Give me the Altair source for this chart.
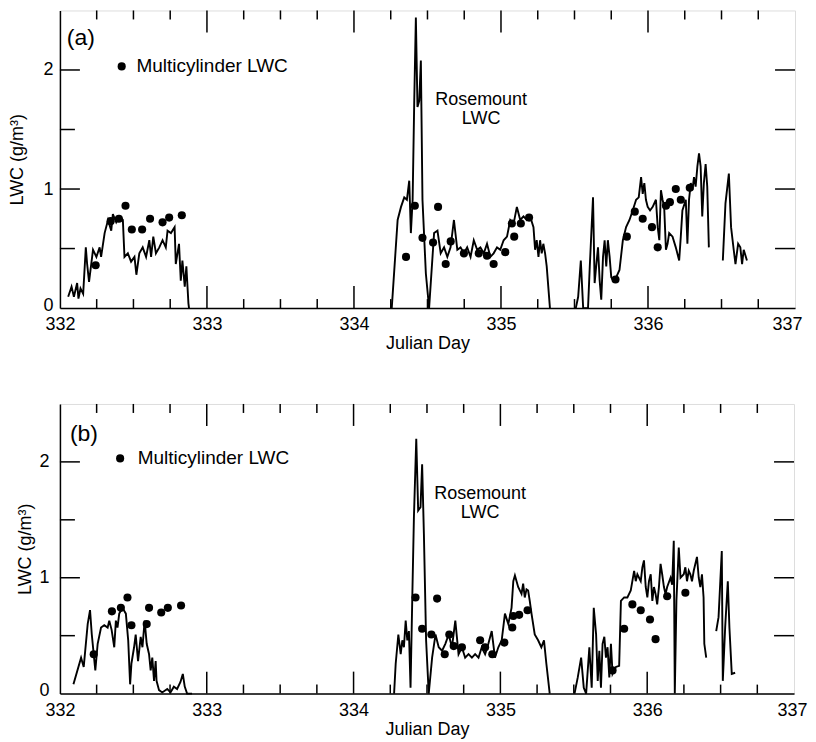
import altair as alt
import pandas as pd

FONT = "Liberation Sans"

# ---------------- Panel (a) : Rosemount LWC (line segments) ----------------
a_day_1 = [332.056, 332.079, 332.095, 332.117, 332.126, 332.14, 332.158, 332.176, 332.185, 332.198,
           332.225, 332.248, 332.27, 332.28, 332.304, 332.327, 332.349, 332.36, 332.383, 332.405,
           332.428, 332.439, 332.462, 332.484, 332.507, 332.52, 332.54, 332.563, 332.586, 332.608,
           332.62, 332.635, 332.653, 332.676, 332.698, 332.72, 332.732, 332.755, 332.78, 332.788,
           332.81, 332.822, 332.833, 332.849, 332.86, 332.874, 332.878]
a_lwc_1 = [0.095, 0.18, 0.095, 0.21, 0.08, 0.165, 0.12, 0.51, 0.37, 0.22,
           0.49, 0.43, 0.51, 0.43, 0.63, 0.74, 0.65, 0.79, 0.72, 0.77,
           0.74, 0.43, 0.46, 0.39, 0.43, 0.28, 0.46, 0.51, 0.43, 0.57,
           0.43, 0.60, 0.46, 0.51, 0.57, 0.51, 0.65, 0.63, 0.68, 0.37,
           0.54, 0.23, 0.40, 0.18, 0.35, 0.04, 0.0]
a_day_2 = [334.257, 334.297, 334.32, 334.342, 334.36, 334.376, 334.387, 334.399, 334.41, 334.421,
           334.432, 334.444, 334.455, 334.466, 334.489, 334.511, 334.545, 334.568, 334.59, 334.613,
           334.635, 334.657, 334.68, 334.703, 334.725, 334.748, 334.77, 334.793, 334.815, 334.838,
           334.86, 334.883, 334.905, 334.928, 334.95, 334.973, 334.995, 335.018, 335.041, 335.063,
           335.086, 335.108, 335.131, 335.153, 335.176, 335.198, 335.221, 335.232, 335.243, 335.255,
           335.266, 335.277, 335.288, 335.3, 335.311, 335.333]
a_lwc_2 = [0.0, 0.74, 0.85, 0.93, 0.91, 1.07, 0.63, 0.91, 1.74, 2.44,
           1.69, 1.74, 2.08, 0.91, 0.29, 0.0, 0.63, 0.65, 0.46, 0.51,
           0.43, 0.51, 0.74, 0.49, 0.51, 0.46, 0.51, 0.43, 0.57, 0.49,
           0.51, 0.46, 0.54, 0.43, 0.46, 0.51, 0.49, 0.57, 0.60, 0.74,
           0.71, 0.85, 0.74, 0.77, 0.74, 0.77, 0.68, 0.49, 0.57, 0.43,
           0.57, 0.46, 0.54, 0.46, 0.35, 0.0]
a_day_3 = [335.509, 335.525, 335.543, 335.559, 335.592, 335.604, 335.626, 335.637, 335.649, 335.66,
           335.671, 335.682, 335.694, 335.705, 335.716, 335.727, 335.739, 335.75, 335.761, 335.784,
           335.806, 335.829, 335.851, 335.874, 335.896, 335.919, 335.937, 335.953, 335.964, 335.975,
           335.986, 335.998, 336.014, 336.032, 336.054, 336.066, 336.077, 336.088, 336.099, 336.11,
           336.122, 336.133, 336.144, 336.167, 336.189, 336.212, 336.223, 336.234, 336.257, 336.268,
           336.279, 336.291, 336.302, 336.313, 336.324, 336.336, 336.347, 336.358, 336.369, 336.38,
           336.392, 336.403, 336.414]
a_lwc_3 = [0.0, 0.095, 0.40, 0.0, 0.0, 0.35, 0.93, 0.21, 0.37, 0.51,
           0.235, 0.07, 0.43, 0.57, 0.35, 0.57, 0.43, 0.26, 0.235, 0.26,
           0.32, 0.57, 0.68, 0.74, 0.82, 0.91, 0.93, 1.10, 0.96, 1.05,
           0.91, 0.85, 0.82, 0.85, 0.91, 0.68, 0.57, 0.99, 0.91, 0.85,
           0.49, 0.54, 0.63, 0.60, 0.51, 0.40, 0.60, 0.82, 0.91, 0.54,
           0.91, 1.05, 0.99, 1.10, 1.02, 1.19, 1.30, 1.19, 0.77, 1.05,
           1.21, 1.02, 0.51]
a_day_4 = [336.509, 336.527, 336.55, 336.565, 336.583, 336.595, 336.613, 336.628, 336.64, 336.651, 336.673]
a_lwc_4 = [0.40, 0.88, 1.13, 0.68, 0.49, 0.37, 0.54, 0.51, 0.37, 0.49, 0.40]

# ---------------- Panel (a) : Multicylinder LWC (dots) ----------------
a_mc_day = [332.243, 332.345, 332.401, 332.446, 332.489, 332.559, 332.613, 332.698, 332.743, 332.829,
            334.354, 334.414, 334.466, 334.538, 334.572, 334.624, 334.658, 334.748, 334.849, 334.905,
            334.95, 335.029, 335.074, 335.09, 335.135, 335.191,
            335.779, 335.856, 335.91, 335.964, 336.027, 336.066, 336.122, 336.149, 336.189, 336.223, 336.284]
a_mc_lwc = [0.36, 0.73, 0.75, 0.86, 0.66, 0.66, 0.75, 0.72, 0.76, 0.78,
            0.43, 0.86, 0.59, 0.55, 0.85, 0.37, 0.56, 0.46, 0.46, 0.44,
            0.37, 0.47, 0.71, 0.60, 0.71, 0.76,
            0.24, 0.60, 0.81, 0.75, 0.68, 0.51, 0.86, 0.89, 1.00, 0.91, 1.01]

# ---------------- Panel (b) : Rosemount LWC (line segments) ----------------
b_day_1 = [332.092, 332.144, 332.162, 332.189, 332.205, 332.217, 332.23, 332.241, 332.257, 332.28,
           332.302, 332.325, 332.336, 332.352, 332.37, 332.381, 332.392, 332.404, 332.426, 332.449,
           332.465, 332.478, 332.487, 332.505, 332.516, 332.532, 332.55, 332.562, 332.577, 332.591,
           332.607, 332.618, 332.629, 332.641, 332.652, 332.658, 332.675, 332.697, 332.731, 332.753,
           332.776, 332.798, 332.821, 332.837, 332.85, 332.866, 332.9]
b_lwc_1 = [0.08, 0.31, 0.23, 0.60, 0.72, 0.51, 0.34, 0.20, 0.43, 0.57,
           0.59, 0.57, 0.63, 0.55, 0.40, 0.63, 0.57, 0.69, 0.74, 0.69,
           0.46, 0.08, 0.26, 0.40, 0.51, 0.28, 0.49, 0.40, 0.63, 0.43,
           0.34, 0.20, 0.31, 0.11, 0.28, 0.11, 0.03, 0.01, 0.04, 0.01,
           0.06, 0.04, 0.10, 0.17, 0.06, 0.0, 0.0]
b_day_2 = [334.276, 334.287, 334.305, 334.321, 334.332, 334.343, 334.355, 334.366, 334.377, 334.388,
           334.40, 334.411, 334.427, 334.44, 334.456, 334.467, 334.479, 334.494, 334.512, 334.535,
           334.558, 334.58, 334.603, 334.625, 334.648, 334.67, 334.693, 334.715, 334.738, 334.76,
           334.783, 334.806, 334.828, 334.851, 334.873, 334.896, 334.918, 334.941, 334.963, 334.986,
           335.009, 335.031, 335.054, 335.076, 335.088, 335.099, 335.121, 335.144, 335.155, 335.166,
           335.178, 335.189, 335.2, 335.212, 335.234, 335.257, 335.279, 335.297, 335.313, 335.336]
b_lwc_2 = [0.0, 0.26, 0.51, 0.34, 0.46, 0.40, 0.63, 0.46, 0.54, 0.05,
           0.83, 1.52, 2.20, 1.58, 1.61, 1.98, 1.38, 0.46, 0.0, 0.31,
           0.51, 0.40, 0.37, 0.43, 0.51, 0.40, 0.63, 0.34, 0.40, 0.31,
           0.34, 0.31, 0.34, 0.31, 0.40, 0.34, 0.43, 0.54, 0.31, 0.40,
           0.46, 0.69, 0.60, 0.74, 0.97, 1.02, 0.92, 0.86, 0.95, 0.83,
           0.90, 0.89, 0.80, 0.69, 0.51, 0.46, 0.40, 0.46, 0.26, 0.0]
b_day_3 = [335.505, 335.527, 335.55, 335.568, 335.584, 335.606, 335.622, 335.636, 335.652, 335.663,
           335.674, 335.685, 335.696, 335.708, 335.719, 335.73, 335.742, 335.753, 335.764, 335.787,
           335.809, 335.821, 335.843, 335.865, 335.888, 335.911, 335.922, 335.933, 335.956, 335.967,
           335.978, 335.99, 336.001, 336.012, 336.024, 336.035, 336.046, 336.057, 336.068, 336.08,
           336.091, 336.102, 336.114, 336.125, 336.136, 336.159, 336.17, 336.181, 336.188, 336.199,
           336.215, 336.227, 336.249, 336.26, 336.271, 336.283, 336.294, 336.305, 336.317, 336.339,
           336.351, 336.362, 336.373, 336.384, 336.389, 336.402]
b_lwc_3 = [0.0, 0.14, 0.31, 0.05, 0.0, 0.40, 0.05, 0.74, 0.51, 0.11,
           0.37, 0.05, 0.43, 0.49, 0.31, 0.40, 0.14, 0.43, 0.17, 0.23,
           0.24, 0.80, 0.83, 0.83, 0.89, 1.06, 0.97, 1.03, 0.97, 1.09,
           1.15, 0.92, 0.83, 0.97, 1.03, 0.80, 0.92, 0.86, 0.77, 0.92,
           1.12, 1.03, 0.92, 0.86, 0.92, 1.00, 0.94, 1.32, 0.0, 0.80,
           1.26, 1.00, 1.03, 1.09, 0.97, 1.06, 1.03, 0.97, 1.06, 1.18,
           1.00, 0.92, 1.03, 0.83, 0.43, 0.31]
b_day_4 = [336.47, 336.486, 336.508, 336.515, 336.531, 336.549, 336.56, 336.576, 336.599]
b_lwc_4 = [0.54, 0.66, 1.23, 0.11, 0.57, 0.97, 0.57, 0.17, 0.18]

# ---------------- Panel (b) : Multicylinder LWC (dots) ----------------
b_mc_day = [332.23, 332.354, 332.415, 332.46, 332.487, 332.591, 332.607, 332.69, 332.735, 332.825,
            334.422, 334.569, 334.467, 334.53, 334.621, 334.652, 334.682, 334.738, 334.862, 334.896,
            334.945, 335.027, 335.081, 335.088, 335.128, 335.185,
            335.764, 335.843, 335.899, 335.956, 336.019, 336.057, 336.136, 336.26]
b_mc_lwc = [0.34, 0.71, 0.74, 0.83, 0.59, 0.60, 0.74, 0.70, 0.74, 0.76,
            0.83, 0.82, 0.56, 0.51, 0.34, 0.51, 0.41, 0.40, 0.46, 0.40,
            0.34, 0.44, 0.57, 0.67, 0.68, 0.72,
            0.20, 0.56, 0.77, 0.72, 0.64, 0.47, 0.84, 0.87]

# ---------------- axes / tick values ----------------
X_LABELS = [332, 333, 334, 335, 336, 337]
Y_LABELS = [0, 1, 2]
X_MAJOR = [333, 334, 335, 336]
X_MINOR = [332.25, 332.5, 332.75, 333.25, 333.5, 333.75, 334.25, 334.5, 334.75,
           335.25, 335.5, 335.75, 336.25, 336.5, 336.75]
Y_MAJOR = [1, 2]
Y_MINOR = [0.5, 1.5]

# ---------------- annotations ----------------
a_note = {"panel": "(a)", "panel_xy": (332.047, 2.265), "leg_dot": (332.42, 2.03), "leg_txt": (332.52, 2.03),
          "ros": [(334.865, 1.75, "Rosemount"), (334.865, 1.585, "LWC")]}
b_note = {"panel": "(b)", "panel_xy": (332.068, 2.24), "leg_dot": (332.41, 2.03), "leg_txt": (332.53, 2.03),
          "ros": [(334.862, 1.725, "Rosemount"), (334.862, 1.56, "LWC")]}


def seg_frame(segs):
    rows = []
    for i, (d, v) in enumerate(segs):
        for x, y in zip(d, v):
            rows.append({"x": x, "y": y, "seg": i})
    return pd.DataFrame(rows)


def panel(segs, mc_day, mc_lwc, note, W, H, xlab_pad, xtitle_pad, ylab_pad, ytitle_pad, last_off):
    xs = alt.Scale(domain=[332, 337], nice=False, zero=False)
    ys = alt.Scale(domain=[0, 2.5], nice=False, zero=False)
    xax = alt.Axis(values=X_LABELS, format="d", title="Julian Day", ticks=False, tickSize=0,
                   grid=False, labelFont=FONT, labelFontSize=18, labelColor="black",
                   labelPadding=xlab_pad, titleFont=FONT, titleFontSize=18, titleFontWeight="normal",
                   titleColor="black", titlePadding=xtitle_pad, domainColor="black", domainWidth=1.5,
                   labelFlush=False, labelOverlap=False,
                   labelOffset={"condition": {"test": "datum.value === 337", "value": last_off}, "value": 0})
    yax = alt.Axis(values=Y_LABELS, format="d", title="LWC (g/m³)", ticks=False, tickSize=0,
                   grid=False, labelFont=FONT, labelFontSize=18, labelColor="black",
                   labelPadding=ylab_pad, titleFont=FONT, titleFontSize=18, titleFontWeight="normal",
                   titleColor="black", titlePadding=ytitle_pad, domainColor="black", domainWidth=1.5,
                   labelFlush=False, labelOverlap=False,
                   labelOffset={"condition": {"test": "datum.value === 0", "value": -3}, "value": 0})

    def X(f="x"):
        return alt.X(f"{f}:Q", scale=xs, axis=xax)

    def Y(f="y"):
        return alt.Y(f"{f}:Q", scale=ys, axis=yax)

    line = alt.Chart(seg_frame(segs)).mark_line(color="black", strokeWidth=1.9).encode(
        x=X(), y=Y(), detail="seg:N", order="x:Q")
    dots = alt.Chart(pd.DataFrame({"x": mc_day, "y": mc_lwc})).mark_point(
        filled=True, color="black", size=66, opacity=1).encode(x=X(), y=Y())

    leg_dot = alt.Chart(pd.DataFrame({"x": [note["leg_dot"][0]], "y": [note["leg_dot"][1]]})).mark_point(
        filled=True, color="black", size=66, opacity=1).encode(x=X(), y=Y())
    leg_txt = alt.Chart(pd.DataFrame({"x": [note["leg_txt"][0]], "y": [note["leg_txt"][1]],
                                      "t": ["Multicylinder LWC"]})).mark_text(
        align="left", baseline="middle", font=FONT, fontSize=19, color="black").encode(
        x=X(), y=Y(), text="t:N")
    pan_txt = alt.Chart(pd.DataFrame({"x": [note["panel_xy"][0]], "y": [note["panel_xy"][1]],
                                      "t": [note["panel"]]})).mark_text(
        align="left", baseline="middle", font=FONT, fontSize=23, color="black").encode(
        x=X(), y=Y(), text="t:N")
    ros_txt = alt.Chart(pd.DataFrame({"x": [r[0] for r in note["ros"]], "y": [r[1] for r in note["ros"]],
                                      "t": [r[2] for r in note["ros"]]})).mark_text(
        align="center", baseline="middle", font=FONT, fontSize=18, color="black").encode(
        x=X(), y=Y(), text="t:N")

    xmaj = pd.DataFrame({"x": X_MAJOR})
    xmin = pd.DataFrame({"x": X_MINOR})
    ymaj = pd.DataFrame({"y": Y_MAJOR})
    ymin = pd.DataFrame({"y": Y_MINOR})
    tick_kw = dict(color="black", strokeWidth=1.5)
    ticks = [
        alt.Chart(xmaj).mark_rule(**tick_kw).encode(x=X(), y=alt.value(H), y2=alt.value(H - 22)),
        alt.Chart(xmaj).mark_rule(**tick_kw).encode(x=X(), y=alt.value(0), y2=alt.value(22)),
        alt.Chart(xmin).mark_rule(**tick_kw).encode(x=X(), y=alt.value(H), y2=alt.value(H - 9)),
        alt.Chart(xmin).mark_rule(**tick_kw).encode(x=X(), y=alt.value(0), y2=alt.value(9)),
        alt.Chart(ymaj).mark_rule(**tick_kw).encode(y=Y(), x=alt.value(0), x2=alt.value(20)),
        alt.Chart(ymaj).mark_rule(**tick_kw).encode(y=Y(), x=alt.value(W), x2=alt.value(W - 20)),
        alt.Chart(ymin).mark_rule(**tick_kw).encode(y=Y(), x=alt.value(0), x2=alt.value(15)),
        alt.Chart(ymin).mark_rule(**tick_kw).encode(y=Y(), x=alt.value(W), x2=alt.value(W - 20)),
    ]
    return alt.layer(line, dots, leg_dot, leg_txt, pan_txt, ros_txt, *ticks).properties(width=W, height=H)


pa = panel([(a_day_1, a_lwc_1), (a_day_2, a_lwc_2), (a_day_3, a_lwc_3), (a_day_4, a_lwc_4)],
           a_mc_day, a_mc_lwc, a_note, 736, 298, xlab_pad=7, xtitle_pad=1, ylab_pad=7, ytitle_pad=16,
           last_off=-8)
pb = panel([(b_day_1, b_lwc_1), (b_day_2, b_lwc_2), (b_day_3, b_lwc_3), (b_day_4, b_lwc_4)],
           b_mc_day, b_mc_lwc, b_note, 735, 290, xlab_pad=8, xtitle_pad=1, ylab_pad=11, ytitle_pad=4,
           last_off=-2)

chart = alt.vconcat(pa, pb, spacing=49).properties(
    padding={"left": 0, "top": 0, "right": 0, "bottom": 0}
).configure_view(stroke="black", strokeWidth=1.5).configure(background="white")

chart.save("out.html", embed_options={"renderer": "svg", "actions": False})
